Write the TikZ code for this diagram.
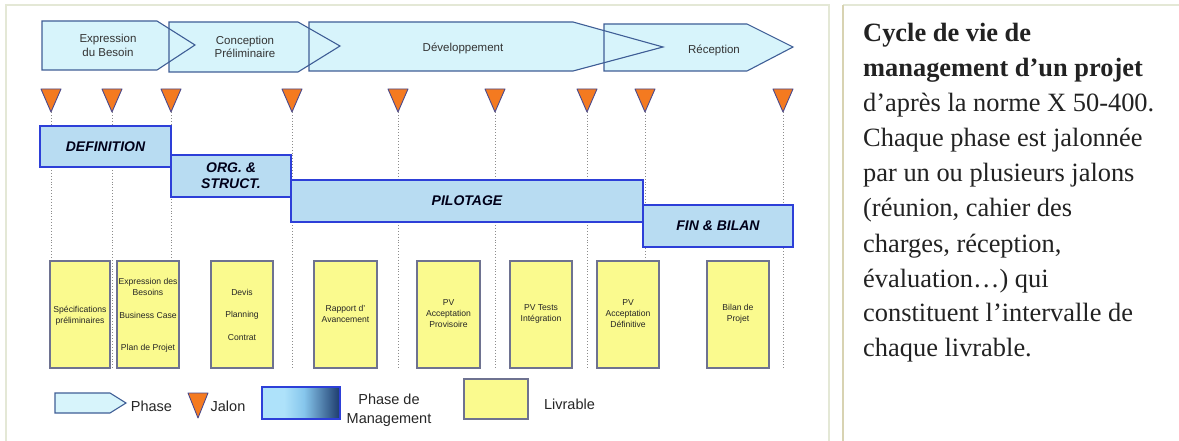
\documentclass[tikz,border=0pt]{standalone}
\usepackage{fontspec}
\setmainfont{Liberation Serif}
\newfontfamily\diagfont{Liberation Sans}

\definecolor{phasefill}{HTML}{D7F4FB}
\definecolor{phaseline}{HTML}{3F5E96}
\definecolor{jalonfill}{HTML}{F47A20}
\definecolor{jalonline}{HTML}{4B4A8C}
\definecolor{mgmtfill}{HTML}{B8DCF2}
\definecolor{mgmtline}{HTML}{2D3FD8}
\definecolor{livfill}{HTML}{FAFA8E}
\definecolor{livline}{HTML}{6E7290}
\definecolor{guide}{HTML}{8C8C8C}
\definecolor{frameA}{HTML}{E4E8D6}
\definecolor{frameB}{HTML}{D8D3B2}
\definecolor{navy}{HTML}{1C3A6C}
\definecolor{skyA}{HTML}{AEE2FA}
\definecolor{skyB}{HTML}{86C6EC}
\definecolor{inkdark}{HTML}{222222}

\tikzset{
  phase/.style={fill=phasefill, draw=phaseline, line width=1.1pt, line join=miter},
  phaseoutline/.style={draw=phaseline, line width=1.1pt, line join=miter},
  phasetxt/.style={font=\diagfont\fontsize{11.5}{13.5}\selectfont, text=black!80, align=center, inner sep=0},
  jalon/.style={fill=jalonfill, draw=jalonline, line width=0.9pt, line join=round},
  guideline/.style={draw=guide, line width=0.9pt, dotted},
  mgmt/.style={fill=mgmtfill, draw=mgmtline, line width=2.2pt},
  mgmttxt/.style={font=\diagfont\bfseries\itshape\fontsize{14}{16}\selectfont, text=black!90!blue, align=center, inner sep=0},
  livbox/.style={fill=livfill, draw=livline, line width=1.1pt},
  livtxt/.style={font=\diagfont\fontsize{8.6}{11}\selectfont, text=black!85, align=center, inner sep=0},
  legtxt/.style={font=\diagfont\fontsize{14.5}{19}\selectfont, text=black!85, align=center, inner sep=0},
  note/.style={font=\fontsize{26.4}{30}\selectfont, text=inkdark, anchor=base west, inner sep=0},
}

\begin{document}
\begin{tikzpicture}[x=1pt, y=-1pt]
  % page and panel frames
  \fill[white] (0,0) rectangle (1179,441);
  \useasboundingbox (0,0) rectangle (1179,441);
  \draw[frameA, line width=1.4pt] (6,445) -- (6,5) -- (829,5) -- (829,445);
  \draw[frameA, line width=1.4pt] (843,5) -- (1182,5);
  \draw[frameB, line width=2.4pt] (843,5) -- (843,445);

  % phases (fills first, then all outlines so overlaps stay visible)
  \path[phase, draw=none] (42,21) -- (157,21) -- (195,45) -- (157,70) -- (42,70) -- cycle;
  \path[phase, draw=none] (169,22) -- (298,22) -- (340,46) -- (298,72) -- (169,72) -- cycle;
  \path[phase, draw=none] (309,22) -- (573,22) -- (663,47) -- (573,71) -- (309,71) -- cycle;
  \path[phase, draw=none] (604,24) -- (747,24) -- (793,47) -- (747,71) -- (604,71) -- cycle;
  \draw[phaseoutline] (42,21) -- (157,21) -- (195,45) -- (157,70) -- (42,70) -- cycle;
  \draw[phaseoutline] (169,22) -- (298,22) -- (340,46) -- (298,72) -- (169,72) -- cycle;
  \draw[phaseoutline] (309,22) -- (573,22) -- (663,47) -- (573,71) -- (309,71) -- cycle;
  \draw[phaseoutline] (604,24) -- (747,24) -- (793,47) -- (747,71) -- (604,71) -- cycle;
  \node[phasetxt] (ph1) at (108,45.5) {Expression\\du Besoin};
  \node[phasetxt] (ph2) at (245,47) {Conception\\Préliminaire};
  \node[phasetxt] (ph3) at (463,48) {Développement};
  \node[phasetxt] (ph4) at (714,50) {Réception};

  % milestone guide lines
  \foreach \x [count=\i] in {51,112,171,292,398,495,587,645,783} {
    \coordinate (j\i) at (\x,112);
    \coordinate (g\i) at (\x,370);
    \draw[guideline] (j\i) -- (g\i);
  }

  % management phases
  \draw[mgmt] (40,126) rectangle (171,167);
  \draw[mgmt] (171,155) rectangle (291,197);
  \draw[mgmt] (291,180) rectangle (643,222);
  \draw[mgmt] (643,205) rectangle (793,247);
  \node[mgmttxt] (def) at (105.5,146.5) {DEFINITION};
  \node[mgmttxt] (org) at (231,176) {ORG. \&\\STRUCT.};
  \node[mgmttxt] (pil) at (467,201) {PILOTAGE};
  \node[mgmttxt] (fin) at (718,226) {FIN \& BILAN};

  % deliverables
  \draw[livbox] (50,261) rectangle (110,368);
  \draw[livbox] (117,261) rectangle (179,368);
  \draw[livbox] (211,261) rectangle (273,368);
  \draw[livbox] (314,261) rectangle (377,368);
  \draw[livbox] (417,261) rectangle (480,368);
  \draw[livbox] (510,261) rectangle (572,368);
  \draw[livbox] (597,261) rectangle (659,368);
  \draw[livbox] (707,261) rectangle (769,368);
  \node[livtxt] (l1) at (80,316) {Spécifications\\préliminaires};
  \node[livtxt] (l2a) at (148,287) {Expression des\\Besoins};
  \node[livtxt] (l2b) at (148,315) {Business Case};
  \node[livtxt] (l2c) at (148,348) {Plan de Projet};
  \node[livtxt] (l3a) at (242,292) {Devis};
  \node[livtxt] (l3b) at (242,315) {Planning};
  \node[livtxt] (l3c) at (242,338) {Contrat};
  \node[livtxt] (l4) at (345.5,314) {Rapport d’\\Avancement};
  \node[livtxt] (l5) at (448.5,314) {PV\\Acceptation\\Provisoire};
  \node[livtxt] (l6) at (541,314) {PV Tests\\Intégration};
  \node[livtxt] (l7) at (628,314) {PV\\Acceptation\\Définitive};
  \node[livtxt] (l8) at (738,314) {Bilan de\\Projet};

  % milestones
  \foreach \x in {51,112,171,292,398,495,587,645,783} {
    \draw[jalon] (\x-10,89) -- (\x+10,89) -- (\x,112) -- cycle;
  }

  % legend
  \draw[phase] (55,393) -- (110,393) -- (126,403) -- (110,413) -- (55,413) -- cycle;
  \node[legtxt] (lgphase) at (151.5,406) {Phase};
  \draw[jalon] (188,393) -- (208,393) -- (198,418) -- cycle;
  \node[legtxt] (lgjalon) at (228,406) {Jalon};
  \fill[skyA] (262,387) rectangle (284,419);
  \shade[left color=skyA, right color=skyB] (284,387) rectangle (304,419);
  \shade[left color=skyB, right color=navy] (304,387) rectangle (340,419);
  \draw[mgmtline, line width=2pt] (262,387) rectangle (340,419);
  \node[legtxt] (lgmgmt) at (389,410.5) {Phase de\\Management};
  \draw[livbox] (464,379) rectangle (528,419);
  \node[legtxt] (lgliv) at (569.5,404) {Livrable};

  % caption text
  \node[note, font=\bfseries\fontsize{26.4}{30}\selectfont] (n1) at (863,42) {Cycle de vie de};
  \node[note, font=\bfseries\fontsize{26.4}{30}\selectfont] (n2) at (863,77) {management d’un projet};
  \node[note] (n3) at (863,112) {d’après la norme X 50-400.};
  \node[note] (n4) at (863,147) {Chaque phase est jalonnée};
  \node[note] (n5) at (863,182) {par un ou plusieurs jalons};
  \node[note] (n6) at (863,217) {(réunion, cahier des};
  \node[note] (n7) at (863,252) {charges, réception,};
  \node[note] (n8) at (863,287) {évaluation…) qui};
  \node[note] (n9) at (863,321) {constituent l’intervalle de};
  \node[note] (n10) at (863,356) {chaque livrable.};
\end{tikzpicture}
\end{document}
